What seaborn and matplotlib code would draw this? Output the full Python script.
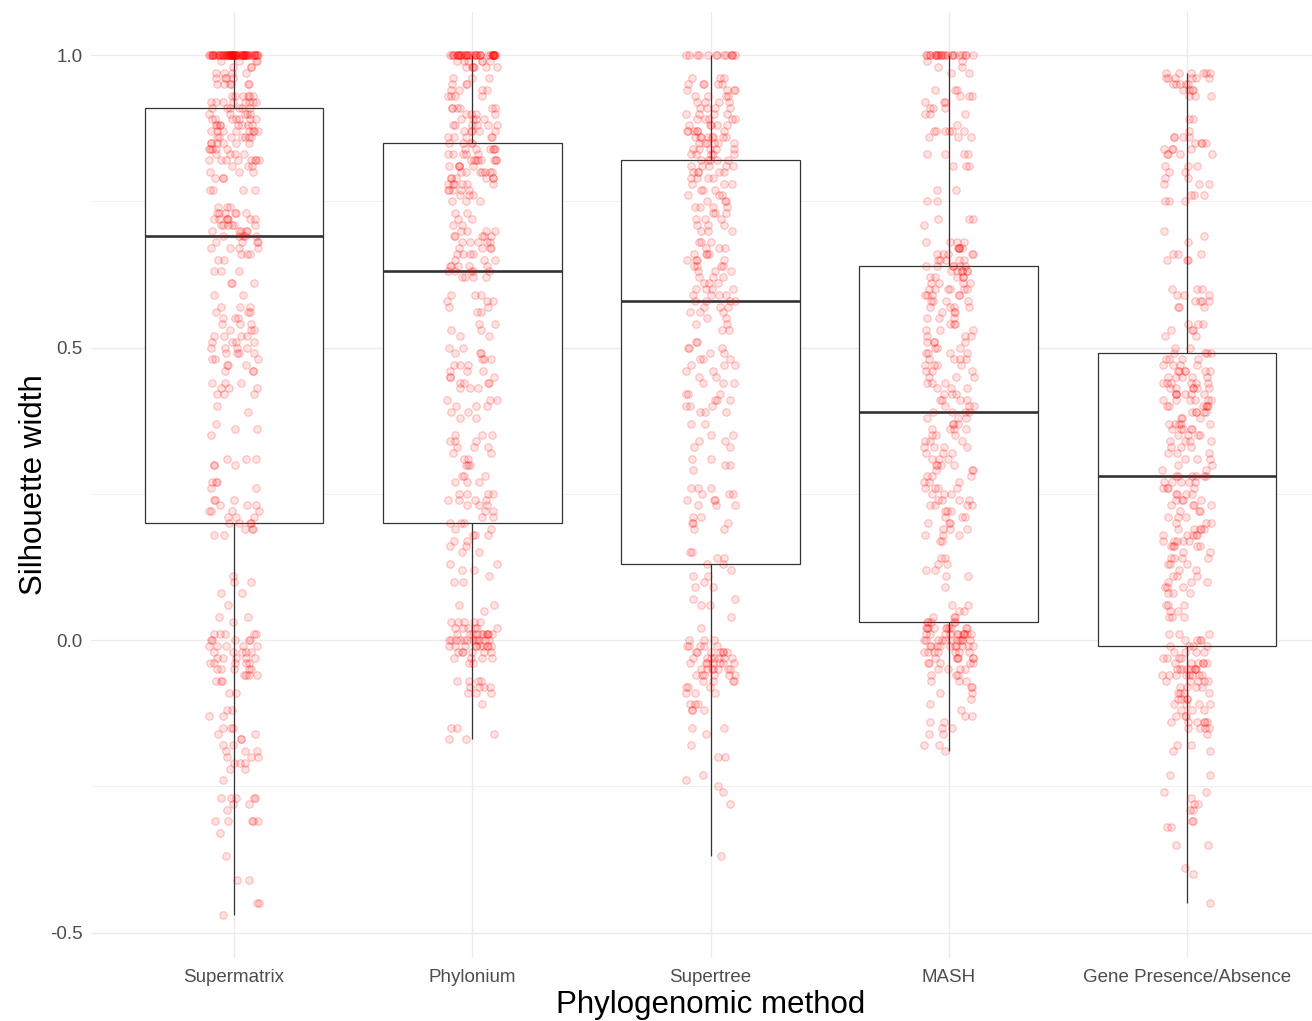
import numpy as np
import pandas as pd
import matplotlib
matplotlib.use("Agg")
import matplotlib.pyplot as plt
from matplotlib.collections import PathCollection
import seaborn as sns

# ---------------------------------------------------------------------------
# Silhouette widths per phylogenomic method, as (value, number of genomes)
# ---------------------------------------------------------------------------
methods = ["Supermatrix", "Phylonium", "Supertree", "MASH", "Gene Presence/Absence"]

supermatrix_levels = [
    1.00, 0.99, 0.98, 0.97, 0.96, 0.95, 0.93, 0.92, 0.91, 0.90, 0.89, 0.88, 0.87,
    0.86, 0.85, 0.84, 0.83, 0.82, 0.81, 0.80, 0.79, 0.77, 0.74, 0.73, 0.72, 0.71,
    0.70, 0.69, 0.68, 0.67, 0.66, 0.65, 0.63, 0.61, 0.59, 0.57, 0.56, 0.55, 0.54,
    0.53, 0.52, 0.51, 0.50, 0.49, 0.48, 0.47, 0.46, 0.44, 0.43, 0.42, 0.40, 0.39,
    0.37, 0.36, 0.35, 0.31, 0.30, 0.27, 0.26, 0.24, 0.23, 0.22, 0.21, 0.20, 0.19,
    0.18, 0.11, 0.10, 0.08, 0.06, 0.04, 0.03, 0.01, 0.00, -0.01, -0.02, -0.03,
    -0.04, -0.05, -0.06, -0.07, -0.09, -0.12, -0.13, -0.15, -0.16, -0.17, -0.18,
    -0.19, -0.20, -0.21, -0.22, -0.24, -0.27, -0.28, -0.29, -0.31, -0.33, -0.37,
    -0.41, -0.45, -0.47]
supermatrix_counts = [
    64, 4, 3, 4, 4, 6, 6, 8, 6, 5, 7, 8, 8,
    7, 6, 5, 4, 8, 3, 3, 3, 4, 3, 6, 7, 6,
    5, 5, 4, 4, 3, 2, 3, 3, 2, 3, 3, 3, 3,
    3, 4, 4, 4, 4, 3, 3, 3, 3, 3, 3, 1, 1,
    1, 2, 1, 3, 3, 3, 2, 3, 3, 4, 3, 4, 3,
    2, 1, 2, 2, 1, 2, 1, 5, 5, 5, 5, 5,
    5, 5, 4, 3, 2, 2, 2, 3, 2, 2, 2,
    3, 3, 3, 2, 1, 5, 2, 1, 5, 1, 1,
    2, 2, 1]

phylonium_levels = [
    1.00, 0.99, 0.98, 0.96, 0.95, 0.94, 0.93, 0.91, 0.90, 0.89, 0.88, 0.87, 0.86,
    0.85, 0.84, 0.83, 0.82, 0.81, 0.80, 0.79, 0.78, 0.77, 0.76, 0.75, 0.73, 0.72,
    0.71, 0.70, 0.69, 0.68, 0.67, 0.66, 0.65, 0.64, 0.63, 0.62, 0.59, 0.58, 0.57,
    0.56, 0.54, 0.53, 0.52, 0.50, 0.49, 0.48, 0.47, 0.46, 0.45, 0.44, 0.43, 0.41,
    0.40, 0.39, 0.38, 0.35, 0.34, 0.33, 0.32, 0.31, 0.30, 0.28, 0.27, 0.25, 0.24,
    0.23, 0.22, 0.21, 0.20, 0.19, 0.18, 0.17, 0.16, 0.15, 0.13, 0.12, 0.11, 0.10,
    0.06, 0.05, 0.03, 0.02, 0.01, 0.00, -0.01, -0.02, -0.03, -0.04, -0.07, -0.08,
    -0.09, -0.11, -0.15, -0.16, -0.17]
phylonium_counts = [
    37, 6, 6, 3, 3, 4, 4, 6, 4, 4, 6, 5, 5,
    4, 6, 5, 8, 5, 7, 6, 6, 5, 3, 3, 2, 2,
    2, 4, 5, 5, 4, 4, 3, 5, 5, 4, 3, 3, 2,
    2, 2, 2, 2, 2, 3, 3, 3, 3, 3, 4, 3, 3,
    3, 2, 2, 3, 3, 3, 2, 2, 3, 3, 3, 4, 4,
    3, 2, 2, 3, 2, 3, 2, 2, 2, 2, 2, 1, 2,
    2, 1, 5, 6, 10, 12, 10, 6, 4, 2, 4, 4,
    3, 1, 2, 1, 2]

supertree_levels = [
    1.00, 0.96, 0.95, 0.94, 0.93, 0.92, 0.91, 0.90, 0.89, 0.88, 0.87, 0.86, 0.85,
    0.84, 0.83, 0.82, 0.81, 0.80, 0.79, 0.78, 0.77, 0.76, 0.75, 0.74, 0.73, 0.72,
    0.71, 0.70, 0.68, 0.67, 0.66, 0.65, 0.64, 0.63, 0.62, 0.61, 0.60, 0.59, 0.58,
    0.57, 0.56, 0.55, 0.54, 0.53, 0.51, 0.50, 0.49, 0.48, 0.47, 0.46, 0.45, 0.44,
    0.42, 0.41, 0.40, 0.39, 0.37, 0.35, 0.34, 0.33, 0.31, 0.30, 0.29, 0.26, 0.25,
    0.24, 0.23, 0.21, 0.20, 0.19, 0.15, 0.14, 0.13, 0.12, 0.11, 0.10, 0.09, 0.07,
    0.06, 0.04, 0.02, 0.00, -0.01, -0.02, -0.03, -0.04, -0.05, -0.06, -0.07, -0.08,
    -0.09, -0.11, -0.12, -0.15, -0.16, -0.18, -0.20, -0.23, -0.24, -0.25, -0.26,
    -0.28, -0.37]
supertree_counts = [
    13, 3, 5, 4, 4, 4, 4, 4, 5, 5, 6, 8, 6,
    5, 5, 5, 5, 5, 4, 3, 3, 3, 3, 4, 3, 3,
    3, 3, 3, 3, 4, 4, 4, 3, 3, 3, 4, 4, 4,
    3, 3, 2, 2, 2, 2, 3, 2, 3, 3, 2, 2, 3,
    3, 3, 3, 3, 2, 2, 2, 2, 2, 2, 1, 3, 3,
    3, 3, 2, 3, 2, 2, 2, 2, 1, 2, 1, 2, 2,
    2, 1, 1, 3, 5, 7, 7, 7, 7, 6, 4, 3,
    3, 3, 3, 2, 1, 1, 2, 1, 1, 1, 1,
    1, 1]

mash_levels = [
    1.00, 0.99, 0.98, 0.97, 0.94, 0.93, 0.92, 0.91, 0.90, 0.88, 0.87, 0.86, 0.83,
    0.81, 0.77, 0.75, 0.72, 0.71, 0.68, 0.67, 0.66, 0.65, 0.64, 0.63, 0.62, 0.61,
    0.60, 0.59, 0.58, 0.57, 0.56, 0.55, 0.54, 0.53, 0.52, 0.51, 0.50, 0.49, 0.48,
    0.47, 0.46, 0.45, 0.44, 0.43, 0.42, 0.41, 0.40, 0.39, 0.38, 0.37, 0.36, 0.35,
    0.34, 0.33, 0.32, 0.31, 0.30, 0.29, 0.28, 0.27, 0.26, 0.25, 0.24, 0.23, 0.22,
    0.21, 0.20, 0.19, 0.18, 0.17, 0.14, 0.13, 0.12, 0.11, 0.09, 0.06, 0.05, 0.04,
    0.03, 0.02, 0.01, 0.00, -0.01, -0.02, -0.03, -0.04, -0.05, -0.06, -0.07, -0.08,
    -0.09, -0.10, -0.11, -0.12, -0.13, -0.14, -0.15, -0.16, -0.18, -0.19]
mash_counts = [
    22, 2, 2, 2, 3, 3, 3, 3, 3, 1, 6, 3, 4,
    3, 2, 2, 3, 1, 4, 5, 5, 5, 6, 6, 5, 4,
    6, 5, 4, 4, 3, 3, 3, 3, 3, 4, 3, 4, 4,
    4, 3, 3, 3, 3, 3, 4, 3, 4, 3, 3, 4, 3,
    3, 4, 3, 3, 4, 3, 3, 3, 4, 3, 4, 4, 3,
    3, 3, 3, 3, 2, 2, 2, 2, 2, 1, 2, 2, 3,
    5, 10, 11, 11, 10, 7, 6, 5, 4, 3, 3, 2,
    2, 1, 1, 1, 2, 2, 2, 2, 2, 1]

gene_pa_levels = [
    0.97, 0.96, 0.95, 0.94, 0.93, 0.89, 0.87, 0.86, 0.85, 0.84, 0.83, 0.81, 0.80,
    0.79, 0.78, 0.76, 0.75, 0.70, 0.69, 0.68, 0.66, 0.65, 0.60, 0.59, 0.58, 0.57,
    0.54, 0.53, 0.52, 0.50, 0.49, 0.48, 0.47, 0.46, 0.45, 0.44, 0.43, 0.42, 0.41,
    0.40, 0.39, 0.38, 0.37, 0.36, 0.35, 0.34, 0.33, 0.32, 0.31, 0.30, 0.29, 0.28,
    0.27, 0.26, 0.25, 0.24, 0.23, 0.22, 0.21, 0.20, 0.19, 0.18, 0.17, 0.16, 0.15,
    0.14, 0.13, 0.12, 0.11, 0.10, 0.09, 0.08, 0.06, 0.05, 0.04, 0.01, 0.00, -0.01,
    -0.02, -0.03, -0.04, -0.05, -0.06, -0.07, -0.08, -0.09, -0.10, -0.11, -0.12,
    -0.13, -0.14, -0.15, -0.16, -0.18, -0.19, -0.23, -0.26, -0.27, -0.28, -0.29,
    -0.31, -0.32, -0.35, -0.39, -0.40, -0.45]
gene_pa_counts = [
    6, 6, 5, 4, 3, 2, 1, 4, 4, 4, 4, 3, 2,
    2, 3, 3, 3, 1, 1, 1, 3, 3, 3, 3, 4, 3,
    3, 3, 2, 2, 4, 4, 4, 6, 5, 6, 6, 6, 6,
    6, 5, 3, 5, 5, 4, 4, 3, 3, 3, 2, 2, 6,
    5, 4, 4, 4, 4, 3, 3, 3, 5, 5, 5, 5, 2,
    4, 3, 2, 3, 3, 3, 3, 3, 2, 3, 3, 4, 4,
    4, 4, 6, 8, 8, 5, 4, 4, 4, 4, 3,
    3, 6, 4, 1, 2, 2, 2, 2, 1, 2, 2,
    2, 2, 2, 1, 1, 1]

# ---------------------------------------------------------------------------
# Long-format table
# ---------------------------------------------------------------------------
series = {
    "Supermatrix": (supermatrix_levels, supermatrix_counts),
    "Phylonium": (phylonium_levels, phylonium_counts),
    "Supertree": (supertree_levels, supertree_counts),
    "MASH": (mash_levels, mash_counts),
    "Gene Presence/Absence": (gene_pa_levels, gene_pa_counts),
}
frames = []
for name in methods:
    lv, ct = series[name]
    vals = np.repeat(np.asarray(lv, dtype=float), np.asarray(ct, dtype=int))
    frames.append(pd.DataFrame({"method": name, "silhouette": vals}))
df = pd.concat(frames, ignore_index=True)

# ---------------------------------------------------------------------------
# Figure
# ---------------------------------------------------------------------------
sns.set_theme(style="white")
plt.rcParams["font.family"] = ["Liberation Sans", "DejaVu Sans"]

W, H = 1312, 1021
fig = plt.figure(figsize=(W / 100, H / 100), dpi=100)
fig.patch.set_facecolor("white")
ax = fig.add_axes([91 / W, 1 - 958 / H, 1239 / W, 946 / H])
ax.set_facecolor("white")

line_col = "#333333"
sns.boxplot(
    data=df, x="method", y="silhouette", order=methods, ax=ax,
    width=0.75, color="white", linecolor=line_col, linewidth=0.9,
    showfliers=False, showcaps=False, whis=1.5,
    medianprops={"linewidth": 1.9, "color": line_col},
    boxprops={"zorder": 2}, whiskerprops={"zorder": 2},
)

np.random.seed(7)
sns.stripplot(
    data=df, x="method", y="silhouette", order=methods, ax=ax,
    color="red", jitter=0.105, size=5.4,
    linewidth=0.8, edgecolor="red", zorder=3,
)
# translucent disc with a slightly stronger rim
for coll in ax.collections:
    if isinstance(coll, PathCollection):
        coll.set_alpha(None)
        coll.set_facecolor((1.0, 0.0, 0.0, 0.11))
        coll.set_edgecolor((1.0, 0.0, 0.0, 0.22))

# axes, grid and labels in a minimal style
ax.set_xlim(-0.6, 4.6)
ax.set_ylim(-0.5435, 1.0735)
ax.set_yticks([-0.5, 0.0, 0.5, 1.0])
ax.set_yticklabels(["-0.5", "0.0", "0.5", "1.0"])
ax.set_yticks([-0.25, 0.25, 0.75], minor=True)
ax.grid(True, which="major", axis="both", color="#EBEBEB", linewidth=1.0, zorder=0)
ax.grid(True, which="minor", axis="y", color="#F0F0F0", linewidth=0.7, zorder=0)
ax.set_axisbelow(True)
for s in ax.spines.values():
    s.set_visible(False)
ax.tick_params(axis="both", which="both", length=0, labelsize=13.5,
               labelcolor="#4D4D4D")
ax.tick_params(axis="y", pad=6)
ax.tick_params(axis="x", pad=8)

ax.set_xlabel("Phylogenomic method", fontsize=22.5, color="black", labelpad=3)
ax.set_ylabel("Silhouette width", fontsize=22.5, color="black", labelpad=1)

fig.savefig("out.png", dpi=100, facecolor="white")
